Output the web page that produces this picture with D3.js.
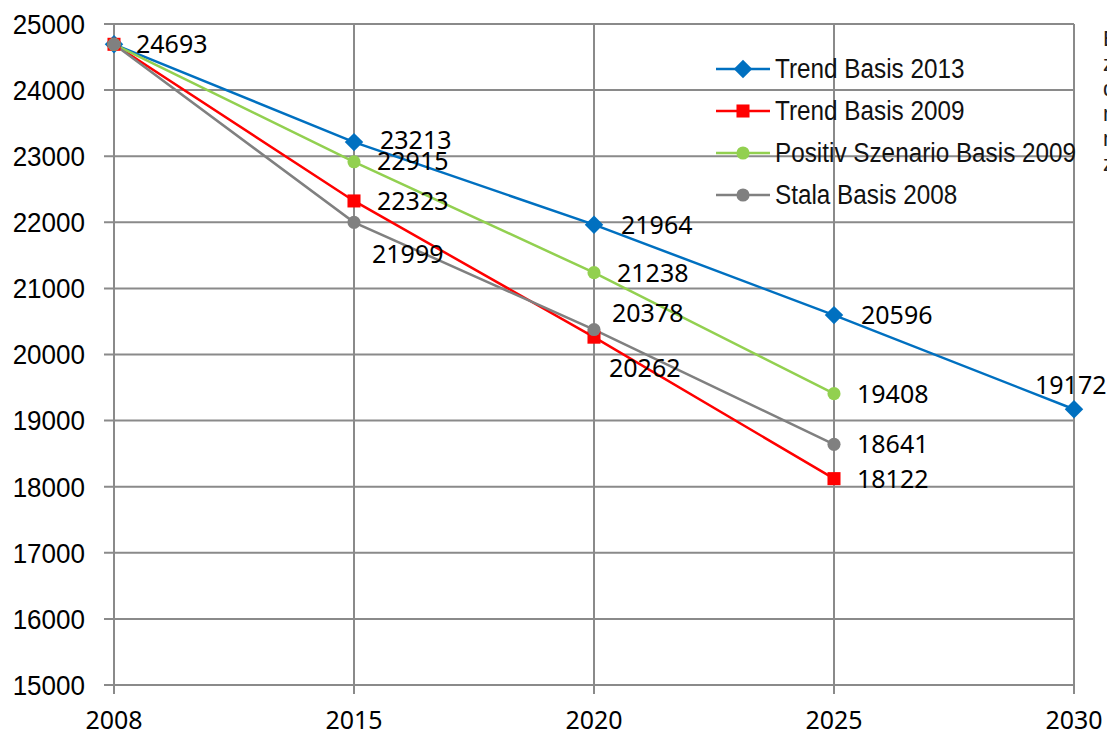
<!DOCTYPE html>
<html><head><meta charset="utf-8">
<script src="https://cdn.jsdelivr.net/npm/d3@7/dist/d3.min.js"></script>
<style>body{margin:0;background:#fff}svg{display:block}</style>
</head><body>
<svg id="c" width="1107" height="735"></svg>
<script>
const categories = ["2008", "2015", "2020", "2025", "2030"];
const yTicks = [15000,16000,17000,18000,19000,20000,21000,22000,23000,24000,25000];
const seriesNames = ["Trend Basis 2013", "Trend Basis 2009", "Positiv Szenario Basis 2009", "Stala Basis 2008"];
const trend2013 = [24693, 23213, 21964, 20596, 19172];
const trend2009 = [24693, 22323, 20262, 18122];
const positiv2009 = [24693, 22915, 21238, 19408];
const stala2008 = [24693, 21999, 20378, 18641];
const sideText = ["E", "z", "d", "m", "m", "z"];

const colors = ["#0070C0", "#FF0000", "#92D050", "#808080"];
const symbols = [d3.symbolSquare, d3.symbolSquare, d3.symbolCircle, d3.symbolCircle];
const symRot = [45, 0, 0, 0];
const symSizes = [170, 170, 135, 135];
// label offsets [dx, dy] per series, per point (layout only)
const labelOffsets = [
  [[22,0],[26,-2],[27,0],[27,0],[-39,-24]],
  [[0,0],[23,0],[15,31],[23,0]],
  [[0,0],[23,-1],[23,0],[23,0]],
  [[0,0],[18,32],[18,-17],[23,0]]
];
const showLabel = [[true,true,true,true,true],[false,true,true,true],[false,true,true,true],[false,true,true,true]];

const svg = d3.select("#c");
const x = d3.scalePoint().domain(categories).range([114, 1074]);
const y = d3.scaleLinear().domain([15000, 25000]).range([685, 24]);
const grid = "#8a8a8a";
const narrow = "Liberation Sans, Arial, sans-serif";

svg.append("g").selectAll("line").data(yTicks).join("line")
  .attr("x1", 104).attr("x2", 1074).attr("y1", d => y(d)).attr("y2", d => y(d))
  .attr("stroke", grid).attr("stroke-width", 2);
svg.append("g").selectAll("line").data(categories).join("line")
  .attr("x1", d => x(d)).attr("x2", d => x(d)).attr("y1", y(25000)).attr("y2", 694)
  .attr("stroke", grid).attr("stroke-width", 2);

svg.append("g").selectAll("text").data(yTicks).join("text")
  .attr("transform", d => `translate(85,${y(d)}) scale(0.93,1)`)
  .attr("dy", "0.35em").attr("text-anchor", "end")
  .attr("font-family", narrow).attr("font-size", 28)
  .attr("fill", "#000").text(d => d);
svg.append("g").selectAll("text").data(categories).join("text")
  .attr("x", d => x(d)).attr("y", 729).attr("text-anchor", "middle")
  .attr("font-family", "Noto Sans, sans-serif").attr("font-size", 25)
  .attr("fill", "#000").text(d => d);

const allSeries = [trend2013, trend2009, positiv2009, stala2008];
const line = d3.line().x((d, i) => x(categories[i])).y(d => y(d));
const order = [0, 1, 2, 3];
order.forEach(s => {
  svg.append("path").datum(allSeries[s]).attr("d", line)
    .attr("fill", "none").attr("stroke", colors[s]).attr("stroke-width", 2.5);
});
order.forEach(s => {
  svg.append("g").selectAll("path").data(allSeries[s]).join("path")
    .attr("transform", (d, i) => `translate(${x(categories[i])},${y(d)}) rotate(${symRot[s]})`)
    .attr("d", d3.symbol().type(symbols[s]).size(symSizes[s])())
    .attr("fill", colors[s]);
});
order.forEach(s => {
  const pts = allSeries[s].map((v, i) => ({v, i})).filter(p => showLabel[s][p.i]);
  svg.append("g").selectAll("text").data(pts).join("text")
    .attr("x", p => x(categories[p.i]) + labelOffsets[s][p.i][0])
    .attr("y", p => y(p.v) + labelOffsets[s][p.i][1])
    .attr("dy", "0.36em")
    .attr("font-family", "Noto Sans, sans-serif").attr("font-size", 25)
    .attr("fill", "#000").text(p => p.v);
});

const lg = svg.append("g");
seriesNames.forEach((name, i) => {
  const ly = 69 + i * 42;
  lg.append("line").attr("x1", 716).attr("x2", 770).attr("y1", ly).attr("y2", ly)
    .attr("stroke", colors[i]).attr("stroke-width", 2.5);
  lg.append("path").attr("transform", `translate(743,${ly}) rotate(${symRot[i]})`)
    .attr("d", d3.symbol().type(symbols[i]).size(symSizes[i])()).attr("fill", colors[i]);
  lg.append("text").attr("transform", `translate(775,${ly}) scale(0.9,1)`).attr("dy", "0.35em")
    .attr("font-family", narrow).attr("font-size", 27)
    .attr("fill", "#111").text(name);
});

svg.append("g").selectAll("text").data(sideText).join("text")
  .attr("x", 1103).attr("y", (d, i) => 46 + i * 25)
  .attr("font-family", narrow).attr("font-size", 22)
  .attr("fill", "#222").text(d => d);
</script>
</body></html>
